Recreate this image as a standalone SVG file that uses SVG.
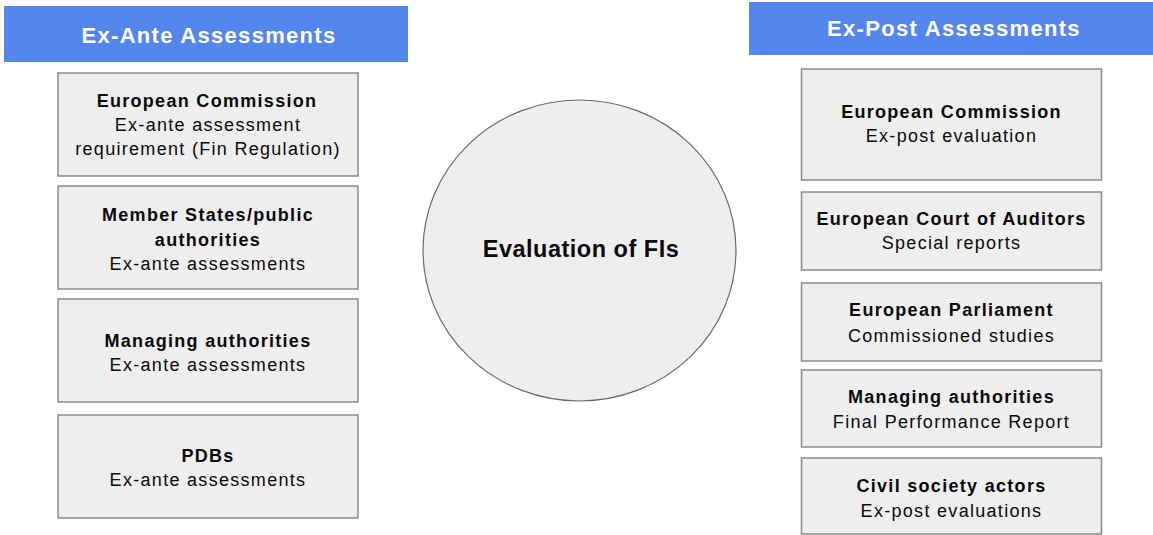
<svg xmlns="http://www.w3.org/2000/svg" width="1153" height="535" viewBox="0 0 1153 535">
  <style>
    .hdr { fill: #5586ee; }
    .hdr-t { font-family: "Liberation Sans", Arial, sans-serif; font-size: 22px; font-weight: bold; fill: #ffffff; text-anchor: middle; letter-spacing: 1.3px; }
    .box { fill: #eeeeee; stroke: #8a8a8a; stroke-width: 1.5; }
    .b { font-family: "Liberation Sans", Arial, sans-serif; font-size: 18px; font-weight: bold; fill: #0a0a0a; text-anchor: middle; letter-spacing: 1.3px; }
    .r { font-family: "Liberation Sans", Arial, sans-serif; font-size: 18px; fill: #0a0a0a; text-anchor: middle; letter-spacing: 1.3px; }
    .hub { fill: #eeeeee; stroke: #6a6a6a; stroke-width: 1.2; }
    .hub-t { font-family: "Liberation Sans", Arial, sans-serif; font-size: 23.5px; font-weight: bold; fill: #0a0a0a; text-anchor: middle; letter-spacing: 0.5px; }
  </style>

  <!-- Column headers -->
  <g id="header-ex-ante">
    <rect class="hdr" x="4" y="6" width="404" height="56"/>
    <text class="hdr-t" x="209" y="43">Ex-Ante Assessments</text>
  </g>
  <g id="header-ex-post">
    <rect class="hdr" x="749" y="2" width="404" height="53"/>
    <text class="hdr-t" x="954" y="36">Ex-Post Assessments</text>
  </g>

  <!-- Central topic -->
  <g id="hub">
    <ellipse class="hub" cx="579.5" cy="250.5" rx="156.5" ry="150.5"/>
    <text class="hub-t" x="581" y="257">Evaluation of FIs</text>
  </g>

  <!-- Ex-ante actors -->
  <g id="ante-commission">
    <rect class="box" x="58" y="73" width="300" height="103"/>
    <text class="b" x="207" y="107">European Commission</text>
    <text class="r" x="208" y="131">Ex-ante assessment</text>
    <text class="r" x="208" y="155">requirement (Fin Regulation)</text>
  </g>
  <g id="ante-member-states">
    <rect class="box" x="58" y="186" width="300" height="103"/>
    <text class="b" x="208" y="221">Member States/public</text>
    <text class="b" x="208" y="246">authorities</text>
    <text class="r" x="208" y="270">Ex-ante assessments</text>
  </g>
  <g id="ante-managing">
    <rect class="box" x="58" y="299" width="300" height="103"/>
    <text class="b" x="208" y="346.5">Managing authorities</text>
    <text class="r" x="208" y="370.5">Ex-ante assessments</text>
  </g>
  <g id="ante-pdbs">
    <rect class="box" x="58" y="415" width="300" height="103"/>
    <text class="b" x="208" y="461.5">PDBs</text>
    <text class="r" x="208" y="485.5">Ex-ante assessments</text>
  </g>

  <!-- Ex-post actors -->
  <g id="post-commission">
    <rect class="box" x="801.5" y="69" width="300" height="111"/>
    <text class="b" x="951.5" y="118">European Commission</text>
    <text class="r" x="951.5" y="142">Ex-post evaluation</text>
  </g>
  <g id="post-auditors">
    <rect class="box" x="801.5" y="192" width="300" height="78"/>
    <text class="b" x="951.5" y="225">European Court of Auditors</text>
    <text class="r" x="951.5" y="249">Special reports</text>
  </g>
  <g id="post-parliament">
    <rect class="box" x="801.5" y="283" width="300" height="78"/>
    <text class="b" x="951.5" y="316">European Parliament</text>
    <text class="r" x="951.5" y="341.5">Commissioned studies</text>
  </g>
  <g id="post-managing">
    <rect class="box" x="801.5" y="370" width="300" height="77"/>
    <text class="b" x="951.5" y="403">Managing authorities</text>
    <text class="r" x="951.5" y="428">Final Performance Report</text>
  </g>
  <g id="post-civil-society">
    <rect class="box" x="801.5" y="458" width="300" height="76"/>
    <text class="b" x="951.5" y="491.5">Civil society actors</text>
    <text class="r" x="951.5" y="516.5">Ex-post evaluations</text>
  </g>

  <!-- No connectors in this figure -->
  <g id="connectors"/>
</svg>
